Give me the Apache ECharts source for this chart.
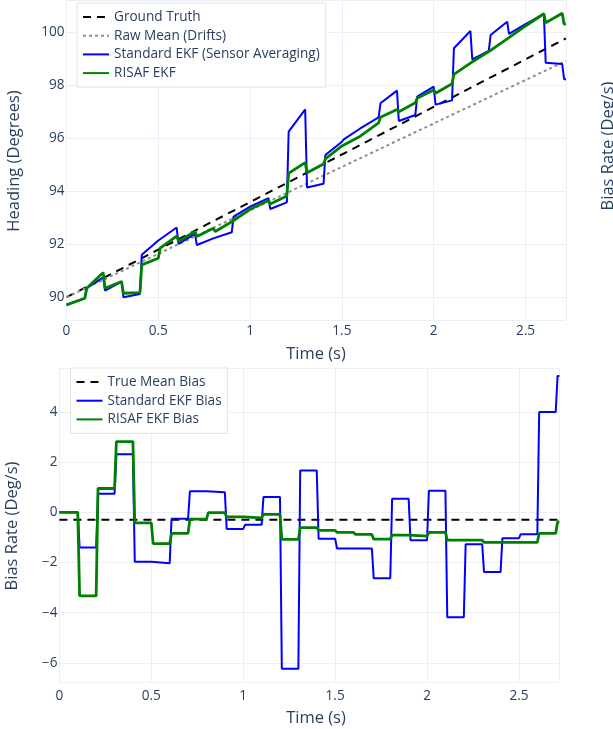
<!DOCTYPE html>
<html style="height: 100%">
   <head>
       <meta charset="utf-8">
   </head>
   <body style="height: 100%; margin: 0; background: #fff">
       <div id="container" style="width: 613px; height: 729px"></div>
       <script type="text/javascript" src="https://cdn.jsdelivr.net/npm/echarts@6/dist/echarts.min.js"></script>
       <script type="text/javascript">
// filter updates every 0.1 s, the last sample is at 2.72 s
var updateTimes = [0, 0.1, 0.2, 0.3, 0.4, 0.5, 0.6, 0.7, 0.8, 0.9, 1.0, 1.1, 1.2, 1.3,
    1.4, 1.5, 1.6, 1.7, 1.8, 1.9, 2.0, 2.1, 2.2, 2.3, 2.4, 2.5, 2.6, 2.7];
var endTime = 2.72;

// heading (deg): value just after each update, and just before the next one
var stdStart = [89.71, 90.34, 90.25, 90.00, 91.60, 92.15, 92.01, 91.97, 92.23, 93.04, 93.43, 93.33, 96.25, 94.14,
    95.37, 95.96, 96.38, 97.32, 96.65, 97.57, 97.27, 99.40, 98.98, 99.90, 99.94, 100.32, 98.85, 98.24];
var stdEnd = [89.96, 90.75, 90.59, 90.12, 92.14, 92.63, 92.39, 92.22, 92.45, 93.42, 93.74, 93.58, 97.09, 94.28,
    95.87, 96.37, 96.79, 97.80, 96.88, 97.95, 97.43, 100.05, 99.30, 100.40, 100.31, 100.70, 98.80, 98.22];
var risafStart = [89.71, 90.34, 90.34, 90.15, 91.22, 91.85, 92.11, 92.29, 92.48, 92.92, 93.33, 93.52, 94.68, 94.70,
    95.22, 95.72, 96.10, 96.79, 97.00, 97.51, 97.70, 98.41, 98.85, 99.28, 99.76, 100.25, 100.36, 100.31];
var risafEnd = [89.96, 90.93, 90.59, 90.17, 91.47, 92.31, 92.48, 92.60, 92.85, 93.32, 93.65, 93.82, 95.08, 95.03,
    95.71, 96.08, 96.58, 97.09, 97.34, 97.82, 98.06, 98.84, 99.27, 99.75, 100.24, 100.70, 100.72, 100.31];
var truthLine = [90, 99.77];     // at t = 0 and t = endTime
var rawMeanLine = [90, 98.92];

// bias estimate (deg/s) held over each update interval
var stdBias = [0, -1.40, 0.74, 2.31, -1.97, -2.03, -0.26, 0.84, 0.80, -0.66, -0.50, 0.61, -6.23, 1.67,
    -1.05, -1.44, -1.44, -2.63, 0.54, -1.11, 0.86, -4.18, -1.27, -2.38, -1.03, -0.87, 4.00, 5.43];
var risafBias = [0, -3.33, 0.95, 2.82, -0.42, -1.25, -0.84, -0.27, -0.01, -0.18, -0.22, -0.08, -1.08, -0.61,
    -0.72, -0.80, -0.88, -1.07, -0.91, -0.95, -0.80, -1.11, -1.11, -1.20, -1.20, -1.20, -0.84, -0.38];
var trueMeanBias = -0.3;

var xTicks = [0, 0.5, 1, 1.5, 2, 2.5];

function segments(startVals, endVals) {
    var pts = [];
    for (var k = 0; k < updateTimes.length; k++) {
        var t0 = k === 0 ? 0 : +(updateTimes[k] + 0.01).toFixed(2);
        var t1 = Math.min(+(updateTimes[k] + 0.1).toFixed(2), endTime);
        pts.push([t0, startVals[k]]);
        pts.push([t1, endVals[k]]);
    }
    return pts;
}

var TXT = '#2a3f5f';
var GRID = '#ebf0f8';
var FONT = '"Open Sans", sans-serif';
var TITLE_FONT = '16.5px "Open Sans"';

var dom = document.getElementById("container");
var myChart = echarts.init(dom, null, {renderer: 'canvas'});

function xAxis(idx) {
    return {
        gridIndex: idx, type: 'value', min: 0, max: endTime, interval: 0.5,
        axisLine: {show: false}, axisTick: {show: false},
        splitLine: {lineStyle: {color: GRID, width: 1}},
        axisLabel: {
            color: TXT, fontSize: 13.6, fontFamily: FONT, margin: idx === 0 ? 4 : 7,
            showMaxLabel: false,
            formatter: function (v) { return xTicks.indexOf(+v.toFixed(2)) >= 0 ? String(+v.toFixed(2)) : ''; }
        }
    };
}

function yAxis(idx, min, max) {
    return {
        gridIndex: idx, type: 'value', min: min, max: max, splitNumber: 6,
        axisLine: {show: false}, axisTick: {show: false},
        splitLine: {lineStyle: {color: GRID, width: 1}},
        axisLabel: {
            color: TXT, fontSize: 13.6, fontFamily: FONT, margin: 2,
            showMinLabel: false, showMaxLabel: false,
            formatter: function (v) {
                if (Math.abs(v - Math.round(v)) > 1e-6) return '';
                return String(Math.round(v)).replace('-', '\u2212');
            }
        }
    };
}

function legend(names, top, left) {
    return {
        data: names, orient: 'vertical', left: left, top: top,
        itemWidth: 26, itemHeight: 14, itemGap: 4.7,
        padding: [7, 6, 7, 5],
        backgroundColor: 'rgba(255,255,255,0.9)',
        borderColor: '#e3e3e3', borderWidth: 1, borderRadius: 0,
        itemStyle: {color: 'transparent', opacity: 0, borderWidth: 0},
        textStyle: {color: TXT, fontSize: 13.6, fontFamily: FONT, lineHeight: 14},
        selectedMode: false
    };
}

function lineSeries(name, xi, data, color, width, type, z) {
    return {
        name: name, type: 'line', xAxisIndex: xi, yAxisIndex: xi, data: data,
        symbol: 'none', showSymbol: false, z: z,
        lineStyle: {color: color, width: width, type: type},
        itemStyle: {color: color}
    };
}

option = {
    animation: false,
    backgroundColor: '#fff',
    grid: [
        {left: 66.5, width: 499.4, top: 0, height: 320},
        {left: 59.4, width: 500, top: 368, height: 314}
    ],
    xAxis: [xAxis(0), xAxis(1)],
    yAxis: [yAxis(0, 89.14, 101.22), yAxis(1, -6.76, 5.75)],
    legend: [
        legend(['Ground Truth', 'Raw Mean (Drifts)', 'Standard EKF (Sensor Averaging)', 'RISAF EKF'], 3, 77),
        legend(['True Mean Bias', 'Standard EKF Bias', 'RISAF EKF Bias'], 368, 70.5)
    ],
    graphic: [
        {type: 'text', x: 14, y: 161, rotation: Math.PI / 2,
            style: {text: 'Heading (Degrees)', fill: TXT, font: TITLE_FONT, align: 'center', verticalAlign: 'middle'}},
        {type: 'text', x: 316, y: 354,
            style: {text: 'Time (s)', fill: TXT, font: TITLE_FONT, align: 'center', verticalAlign: 'middle'}},
        {type: 'text', x: 608, y: 146, rotation: Math.PI / 2,
            style: {text: 'Bias Rate (Deg/s)', fill: TXT, font: TITLE_FONT, align: 'center', verticalAlign: 'middle'}},
        {type: 'text', x: 12, y: 526, rotation: Math.PI / 2,
            style: {text: 'Bias Rate (Deg/s)', fill: TXT, font: TITLE_FONT, align: 'center', verticalAlign: 'middle'}},
        {type: 'text', x: 316, y: 718,
            style: {text: 'Time (s)', fill: TXT, font: TITLE_FONT, align: 'center', verticalAlign: 'middle'}}
    ],
    series: [
        lineSeries('Ground Truth', 0, [[0, truthLine[0]], [endTime, truthLine[1]]], '#000', 2, [8, 6], 2),
        lineSeries('Raw Mean (Drifts)', 0, [[0, rawMeanLine[0]], [endTime, rawMeanLine[1]]], '#8f8f8f', 2, [3, 3], 3),
        lineSeries('Standard EKF (Sensor Averaging)', 0, segments(stdStart, stdEnd), '#0000ff', 2, 'solid', 4),
        lineSeries('RISAF EKF', 0, segments(risafStart, risafEnd), '#008000', 2.8, 'solid', 5),
        lineSeries('True Mean Bias', 1, [[0, trueMeanBias], [endTime, trueMeanBias]], '#000', 2, [8, 6], 2),
        lineSeries('Standard EKF Bias', 1, segments(stdBias, stdBias), '#0000ff', 2, 'solid', 4),
        lineSeries('RISAF EKF Bias', 1, segments(risafBias, risafBias), '#008000', 2.8, 'solid', 5)
    ]
};

if (option && typeof option === "object") {
    myChart.setOption(option, true);
}
       </script>
   </body>
</html>
